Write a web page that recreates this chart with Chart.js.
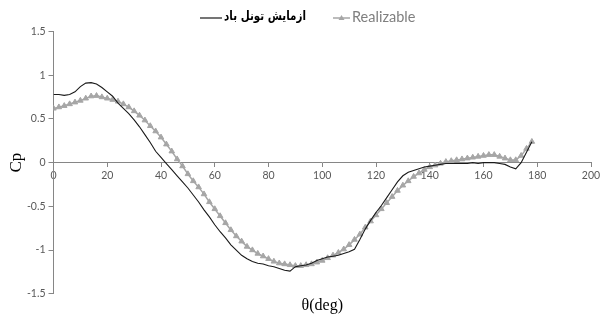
<!DOCTYPE html>
<html>
<head>
<meta charset="utf-8">
<script src="https://cdn.jsdelivr.net/npm/chart.js@4.4.1/dist/chart.umd.min.js"></script>
<style>
  html, body { margin: 0; padding: 0; background: #ffffff; }
  #wrap { width: 607px; height: 320px; }
</style>
</head>
<body>
<div id="wrap"><canvas id="c" width="607" height="320"></canvas></div>
<script>
// Angle around the cylinder (degrees)
const theta = [
  0, 2, 4, 6, 8, 10, 12, 14, 16, 18, 20, 22, 24, 26, 28, 30, 32, 34, 36, 38,
  40, 42, 44, 46, 48, 50, 52, 54, 56, 58, 60, 62, 64, 66, 68, 70, 72, 74, 76, 78,
  80, 82, 84, 86, 88, 90, 92, 94, 96, 98, 100, 102, 104, 106, 108, 110, 112, 114, 116, 118,
  120, 122, 124, 126, 128, 130, 132, 134, 136, 138, 140, 142, 144, 146, 148, 150, 152, 154, 156, 158,
  160, 162, 164, 166, 168, 170, 172, 174, 176, 178
];

// Wind-tunnel measurement
const cpExperiment = [
  0.78, 0.78, 0.77, 0.78, 0.81, 0.87, 0.91, 0.915, 0.90, 0.86, 0.81, 0.76, 0.68, 0.62, 0.56, 0.49, 0.41, 0.32, 0.23, 0.13,
  0.06, -0.01, -0.08, -0.15, -0.22, -0.29, -0.37, -0.45, -0.54, -0.62, -0.71, -0.79, -0.86, -0.94, -1.00, -1.06, -1.10, -1.13, -1.15, -1.16,
  -1.18, -1.19, -1.21, -1.23, -1.24, -1.19, -1.18, -1.17, -1.15, -1.12, -1.10, -1.08, -1.07, -1.06, -1.04, -1.02, -0.99, -0.88, -0.76, -0.66,
  -0.57, -0.49, -0.40, -0.31, -0.22, -0.15, -0.11, -0.09, -0.07, -0.05, -0.04, -0.03, -0.02, -0.01, -0.01, -0.01, -0.01, -0.01, 0.00, -0.01,
  0.00, 0.00, 0.00, -0.01, -0.02, -0.05, -0.07, 0.00, 0.12, 0.24
];

// Realizable k-epsilon simulation
const cpRealizable = [
  0.62, 0.635, 0.65, 0.67, 0.69, 0.71, 0.735, 0.76, 0.765, 0.75, 0.735, 0.72, 0.70, 0.67, 0.635, 0.59, 0.54, 0.485, 0.42, 0.36,
  0.29, 0.21, 0.13, 0.04, -0.04, -0.13, -0.21, -0.28, -0.36, -0.45, -0.53, -0.61, -0.69, -0.77, -0.84, -0.90, -0.96, -1.00, -1.04, -1.07,
  -1.10, -1.13, -1.15, -1.16, -1.17, -1.18, -1.18, -1.17, -1.16, -1.14, -1.12, -1.09, -1.06, -1.03, -0.99, -0.94, -0.88, -0.82, -0.74, -0.67,
  -0.60, -0.53, -0.46, -0.39, -0.32, -0.26, -0.21, -0.16, -0.12, -0.08, -0.05, -0.03, -0.01, 0.01, 0.02, 0.03, 0.04, 0.05, 0.06, 0.07,
  0.08, 0.09, 0.09, 0.07, 0.05, 0.03, 0.03, 0.08, 0.16, 0.24
];

const seriesNames = ['ازمایش تونل باد', 'Realizable'];
const xTicks = [0, 20, 40, 60, 80, 100, 120, 140, 160, 180, 200];
const yTicks = [-1.5, -1, -0.5, 0, 0.5, 1, 1.5];
const xTitle = 'θ(deg)';
const yTitle = 'Cp';

const AXIS = '#868686';
const TICK_TEXT = '#595959';
const EXP_COLOR = '#1a1a1a';
const SIM_COLOR = '#a6a6a6';

const pts = (ys) => theta.map((t, i) => ({ x: t, y: ys[i] }));

// Legend row drawn above the plot: line sample + label for each series
const legendRow = {
  id: 'legendRow',
  afterDraw(chart) {
    const ctx = chart.ctx;
    const y = 17;
    ctx.save();
    ctx.textBaseline = 'middle';

    // measured series: black line then Arabic label (kept to an 82px slot)
    ctx.font = 'bold 13px "DejaVu Sans"';
    const arRight = 306;
    const slot = 82;
    const arW = ctx.measureText(seriesNames[0]).width;
    const sx = Math.min(1, slot / arW);
    ctx.save();
    ctx.translate(arRight, y);
    ctx.scale(sx, 1);
    ctx.fillStyle = '#000000';
    ctx.textAlign = 'right';
    ctx.fillText(seriesNames[0], 0, 0);
    ctx.restore();
    const arLeft = arRight - arW * sx;
    ctx.strokeStyle = EXP_COLOR;
    ctx.lineWidth = 1.2;
    ctx.beginPath();
    ctx.moveTo(arLeft - 24, y + 1);
    ctx.lineTo(arLeft - 2, y + 1);
    ctx.stroke();

    // simulated series: grey line with triangle then label
    ctx.strokeStyle = SIM_COLOR;
    ctx.lineWidth = 1.5;
    ctx.beginPath();
    ctx.moveTo(333, y + 1);
    ctx.lineTo(350, y + 1);
    ctx.stroke();
    ctx.fillStyle = SIM_COLOR;
    ctx.beginPath();
    ctx.moveTo(341.5, y - 2);
    ctx.lineTo(344.5, y + 3);
    ctx.lineTo(338.5, y + 3);
    ctx.closePath();
    ctx.fill();
    ctx.font = '14.5px Lato';
    ctx.fillStyle = '#7f7f7f';
    ctx.textAlign = 'left';
    ctx.fillText(seriesNames[1], 352, y);
    ctx.restore();
  }
};

new Chart(document.getElementById('c'), {
  type: 'line',
  data: {
    datasets: [
      {
        label: seriesNames[0],
        data: pts(cpExperiment),
        borderColor: EXP_COLOR,
        borderWidth: 1.1,
        pointRadius: 0,
        tension: 0,
        fill: false
      },
      {
        label: seriesNames[1],
        data: pts(cpRealizable),
        borderColor: SIM_COLOR,
        borderWidth: 1.5,
        pointStyle: 'triangle',
        pointRadius: 3.2,
        pointBackgroundColor: SIM_COLOR,
        pointBorderColor: SIM_COLOR,
        pointBorderWidth: 1,
        tension: 0,
        fill: false
      }
    ]
  },
  options: {
    responsive: false,
    devicePixelRatio: 1,
    animation: false,
    layout: { padding: { top: 31.5, right: 16, left: 0, bottom: 0 } },
    plugins: {
      legend: { display: false },
      tooltip: { enabled: false },
      title: {
        display: true,
        position: 'bottom',
        fullSize: false,
        text: xTitle,
        color: '#000000',
        font: { family: '"Liberation Serif"', size: 16, weight: 'normal', lineHeight: 1.2 },
        padding: { top: 2, bottom: 5 }
      }
    },
    scales: {
      x: {
        type: 'linear',
        min: 0,
        max: 200,
        position: { y: 0 },
        afterBuildTicks: (s) => { s.ticks = xTicks.map(v => ({ value: v })); },
        afterFit: (s) => { s.height = 0; },
        ticks: {
          color: TICK_TEXT,
          font: { family: 'Lato', size: 10.5 },
          padding: 3,
          maxRotation: 0,
          autoSkip: false
        },
        grid: { display: true, drawOnChartArea: false, drawTicks: true, tickLength: 4, color: AXIS },
        border: { display: true, color: AXIS, width: 1 }
      },
      y: {
        type: 'linear',
        min: -1.5,
        max: 1.5,
        afterBuildTicks: (s) => { s.ticks = yTicks.map(v => ({ value: v })); },
        afterFit: (s) => { s.width = 53.5; },
        ticks: {
          color: TICK_TEXT,
          font: { family: 'Lato', size: 10.5 },
          padding: 3,
          callback: (v) => String(v)
        },
        grid: { display: true, drawOnChartArea: false, drawTicks: true, tickLength: 5, color: AXIS },
        border: { display: true, color: AXIS, width: 1 },
        title: {
          display: true,
          text: yTitle,
          color: '#000000',
          font: { family: '"Liberation Serif"', size: 17, weight: 'normal' },
          padding: { top: 6, bottom: 0 }
        }
      }
    }
  },
  plugins: [legendRow]
});
</script>
</body>
</html>
